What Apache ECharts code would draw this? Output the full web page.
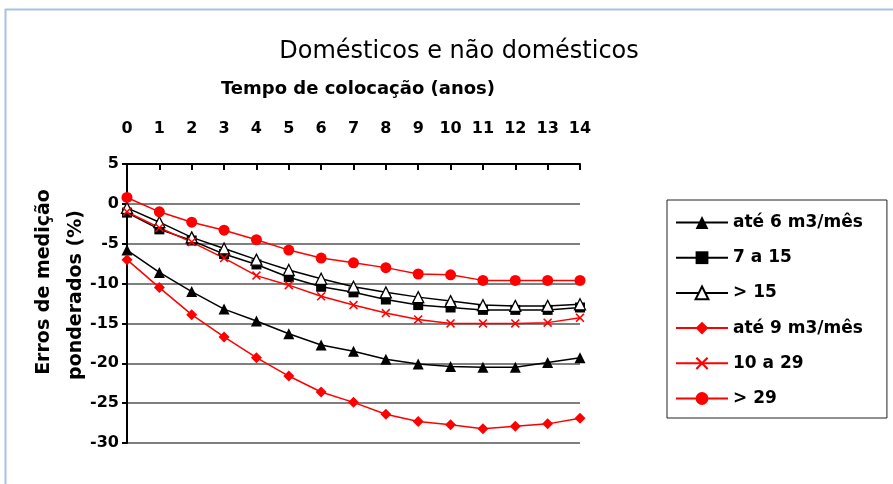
<!DOCTYPE html>
<html><head><meta charset="utf-8">
<script src="https://cdn.jsdelivr.net/npm/echarts@6/dist/echarts.min.js"></script>
<style>html,body{margin:0;padding:0;background:#fff}#c{width:893px;height:484px}</style>
</head><body><div id="c"></div>
<script>
const categories = ['0','1','2','3','4','5','6','7','8','9','10','11','12','13','14'];
const seriesNames = ['até 6 m3/mês','7 a 15','> 15','até 9 m3/mês','10 a 29','> 29'];
const ate6 = [-5.8,-8.6,-11.0,-13.2,-14.7,-16.3,-17.7,-18.5,-19.5,-20.1,-20.4,-20.5,-20.5,-19.9,-19.3];
const de7a15 = [-1.1,-3.2,-4.6,-6.3,-7.6,-9.2,-10.4,-11.1,-12.0,-12.7,-13.0,-13.3,-13.3,-13.3,-13.0];
const mais15 = [-0.5,-2.3,-4.2,-5.6,-7.0,-8.3,-9.4,-10.4,-11.1,-11.7,-12.2,-12.7,-12.8,-12.8,-12.6];
const ate9 = [-7.0,-10.5,-13.9,-16.7,-19.3,-21.6,-23.6,-24.9,-26.4,-27.3,-27.7,-28.2,-27.9,-27.6,-26.9];
const de10a29 = [-1.0,-3.0,-4.8,-6.8,-9.0,-10.2,-11.6,-12.7,-13.7,-14.5,-15.0,-15.0,-15.0,-14.9,-14.3];
const mais29 = [0.8,-1.0,-2.3,-3.3,-4.5,-5.8,-6.8,-7.4,-8.0,-8.8,-8.9,-9.6,-9.6,-9.6,-9.6];
const yTicks = {min:-30, max:5, interval:5};

const F = '"DejaVu Sans", Arial, sans-serif';
const CROSS = 'path://M0,1.2L1.2,0L5,3.8L8.8,0L10,1.2L6.2,5L10,8.8L8.8,10L5,6.2L1.2,10L0,8.8L3.8,5Z';
function mk(name, data, color, symbol, size, fill) {
  return {
    name, type:'line', data, xAxisIndex:0,
    symbol, symbolSize:size,
    lineStyle:{color, width:1.5},
    itemStyle:{color: fill || color, borderColor: color, borderWidth: fill ? 1.3 : 0},
    emphasis:{disabled:true}, animation:false
  };
}
const chart = echarts.init(document.getElementById('c'));
chart.setOption({
  animation:false,
  graphic:[
    {type:'line', shape:{x1:5,y1:9.5,x2:893,y2:9.5}, style:{stroke:'#a9c1e3', lineWidth:2}},
    {type:'line', shape:{x1:5.5,y1:9,x2:5.5,y2:484}, style:{stroke:'#a9c1e3', lineWidth:2}},
    {type:'text', x:459, y:52, style:{text:'Domésticos e não domésticos', font:'24px '+F, fill:'#000', align:'center', verticalAlign:'middle'}},
    {type:'text', x:358, y:89, style:{text:'Tempo de colocação (anos)', font:'bold 18px '+F, fill:'#000', align:'center', verticalAlign:'middle'}},
    {type:'text', x:44, y:282, rotation:Math.PI/2, style:{text:'Erros de medição', font:'bold 19px '+F, fill:'#000', align:'center', verticalAlign:'middle'}},
    {type:'text', x:76, y:295, rotation:Math.PI/2, style:{text:'ponderados (%)', font:'bold 19px '+F, fill:'#000', align:'center', verticalAlign:'middle'}}
  ],
  grid:{left:127, right:313, top:164, bottom:41, containLabel:false},
  legend:{
    orient:'vertical', left:667, top:200,
    padding:[14,24,11,8], itemGap:18.2, itemWidth:52, itemHeight:16,
    borderColor:'#222', borderWidth:1,
    textStyle:{fontFamily:F, fontSize:17, fontWeight:'bold', color:'#000', padding:[0,0,0,0]},
    data:seriesNames
  },
  xAxis:[
    {type:'category', data:categories, boundaryGap:false, position:'top',
     axisLine:{show:false}, axisTick:{show:false}, splitLine:{show:false},
     axisLabel:{fontFamily:F, fontSize:16, fontWeight:'bold', color:'#000', margin:27, interval:0}},
    {type:'category', data:categories, boundaryGap:false, position:'top',
     axisLine:{show:true, onZero:true, lineStyle:{color:'#000', width:2}},
     axisTick:{show:true, inside:true, length:6, interval:0, lineStyle:{color:'#000', width:2}},
     axisLabel:{show:false}, splitLine:{show:false}}
  ],
  yAxis:{
    type:'value', min:yTicks.min, max:yTicks.max, interval:yTicks.interval,
    axisLine:{show:true, onZero:false, lineStyle:{color:'#000', width:2}},
    axisTick:{show:true, length:5, lineStyle:{color:'#000', width:2}},
    axisLabel:{fontFamily:F, fontSize:16, fontWeight:'bold', color:'#000', margin:8},
    splitLine:{show:true, lineStyle:{color:'#7f7f7f', width:2}}
  },
  series:[
    mk(seriesNames[0], ate6, '#000', 'triangle', 11),
    mk(seriesNames[1], de7a15, '#000', 'rect', 10),
    mk(seriesNames[2], mais15, '#000', 'triangle', 11, '#fff'),
    mk(seriesNames[3], ate9, '#ff0000', 'diamond', 11),
    mk(seriesNames[4], de10a29, '#ff0000', CROSS, 9),
    mk(seriesNames[5], mais29, '#ff0000', 'circle', 11)
  ]
});
</script></body></html>
